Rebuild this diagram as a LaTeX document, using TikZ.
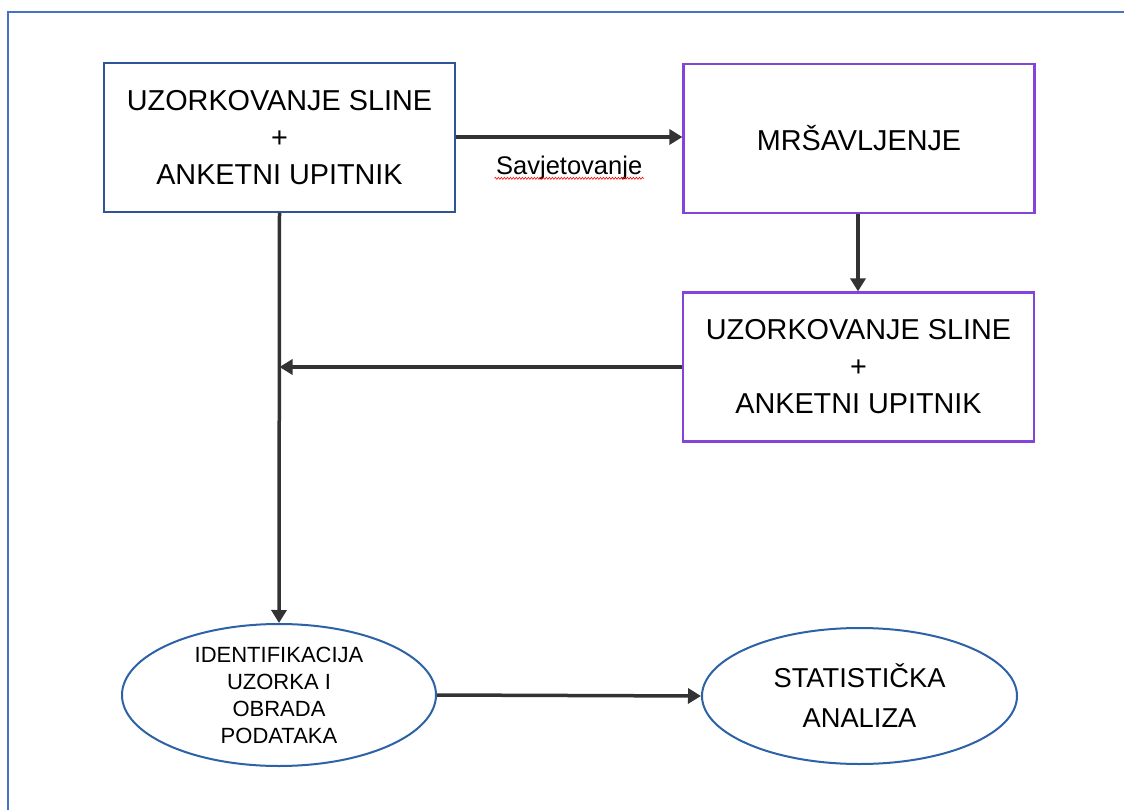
\documentclass[tikz,border=0pt]{standalone}
\usepackage{fontspec}
\setmainfont{Liberation Sans}
\usetikzlibrary{shapes.geometric,arrows.meta,decorations.pathmorphing}
\definecolor{frameblue}{HTML}{4472C4}
\definecolor{boxblue}{HTML}{2F5597}
\definecolor{boxpurple}{HTML}{8443DA}
\definecolor{ellblue}{HTML}{2E62A6}
\definecolor{arrowgray}{HTML}{333333}
\tikzset{
  bluebox/.style={draw=boxblue, line width=2pt, minimum width=351pt, minimum height=149pt, align=center, font=\fontsize{28.8}{37}\selectfont, inner sep=0pt},
  purplebox/.style={draw=boxpurple, line width=2.2pt, minimum width=351pt, minimum height=149pt, align=center, font=\fontsize{28.8}{37}\selectfont, inner sep=0pt},
  ellnode/.style={draw=ellblue, ellipse, line width=2pt, minimum width=314pt, minimum height=142pt, inner sep=0pt, align=center},
  conn/.style={draw=arrowgray, line width=3.5pt, -{Triangle[length=13pt,width=15pt]}},
  wavy/.style={draw=red, line width=0.6pt, decorate, decoration={snake, amplitude=1pt, segment length=3pt}}
}
\begin{document}
\begin{tikzpicture}[x=1pt,y=-1pt]
\useasboundingbox (0,0) rectangle (1124,810);
\fill[white] (0,0) rectangle (1124,810);
\draw[frameblue, line width=1.5pt] (8,830) -- (8,12) -- (1140,12);

\node[bluebox] (b1) at (279.5,137.5) {UZORKOVANJE SLINE\\+\\ANKETNI UPITNIK};
\node[purplebox] (b2) at (859,138.5) {MRŠAVLJENJE};
\node[purplebox] (b3) at (858.5,367) {UZORKOVANJE SLINE\\+\\ANKETNI UPITNIK};
\node[ellnode, font=\fontsize{22}{27}\selectfont] (e1) at (279,695) {IDENTIFIKACIJA\\UZORKA I\\OBRADA\\PODATAKA};
\node[ellnode, font=\fontsize{27.3}{40}\selectfont, minimum width=315pt, minimum height=136pt] (e2) at (859.5,696) {STATISTIČKA\\ANALIZA};

\coordinate (j) at (b1.south |- b3.west);
\draw[conn] (b1.east |- 0,137) -- (b2.west |- 0,137)
  node[midway, below=17pt, font=\fontsize{25.5}{28}\selectfont, inner sep=0pt] (lab) {Savjetovanje};
\draw[wavy] ([yshift=3pt]lab.south west) -- ([yshift=3pt]lab.south east);
\draw[conn] (b2.south -| 858,0) -- (b3.north -| 858,0);
\draw[conn] (b3.west) -- (j);
\draw[conn] (b1.south) -- (e1.north);
\draw[conn] (e1.east) -- (e2.west);
\end{tikzpicture}
\end{document}
